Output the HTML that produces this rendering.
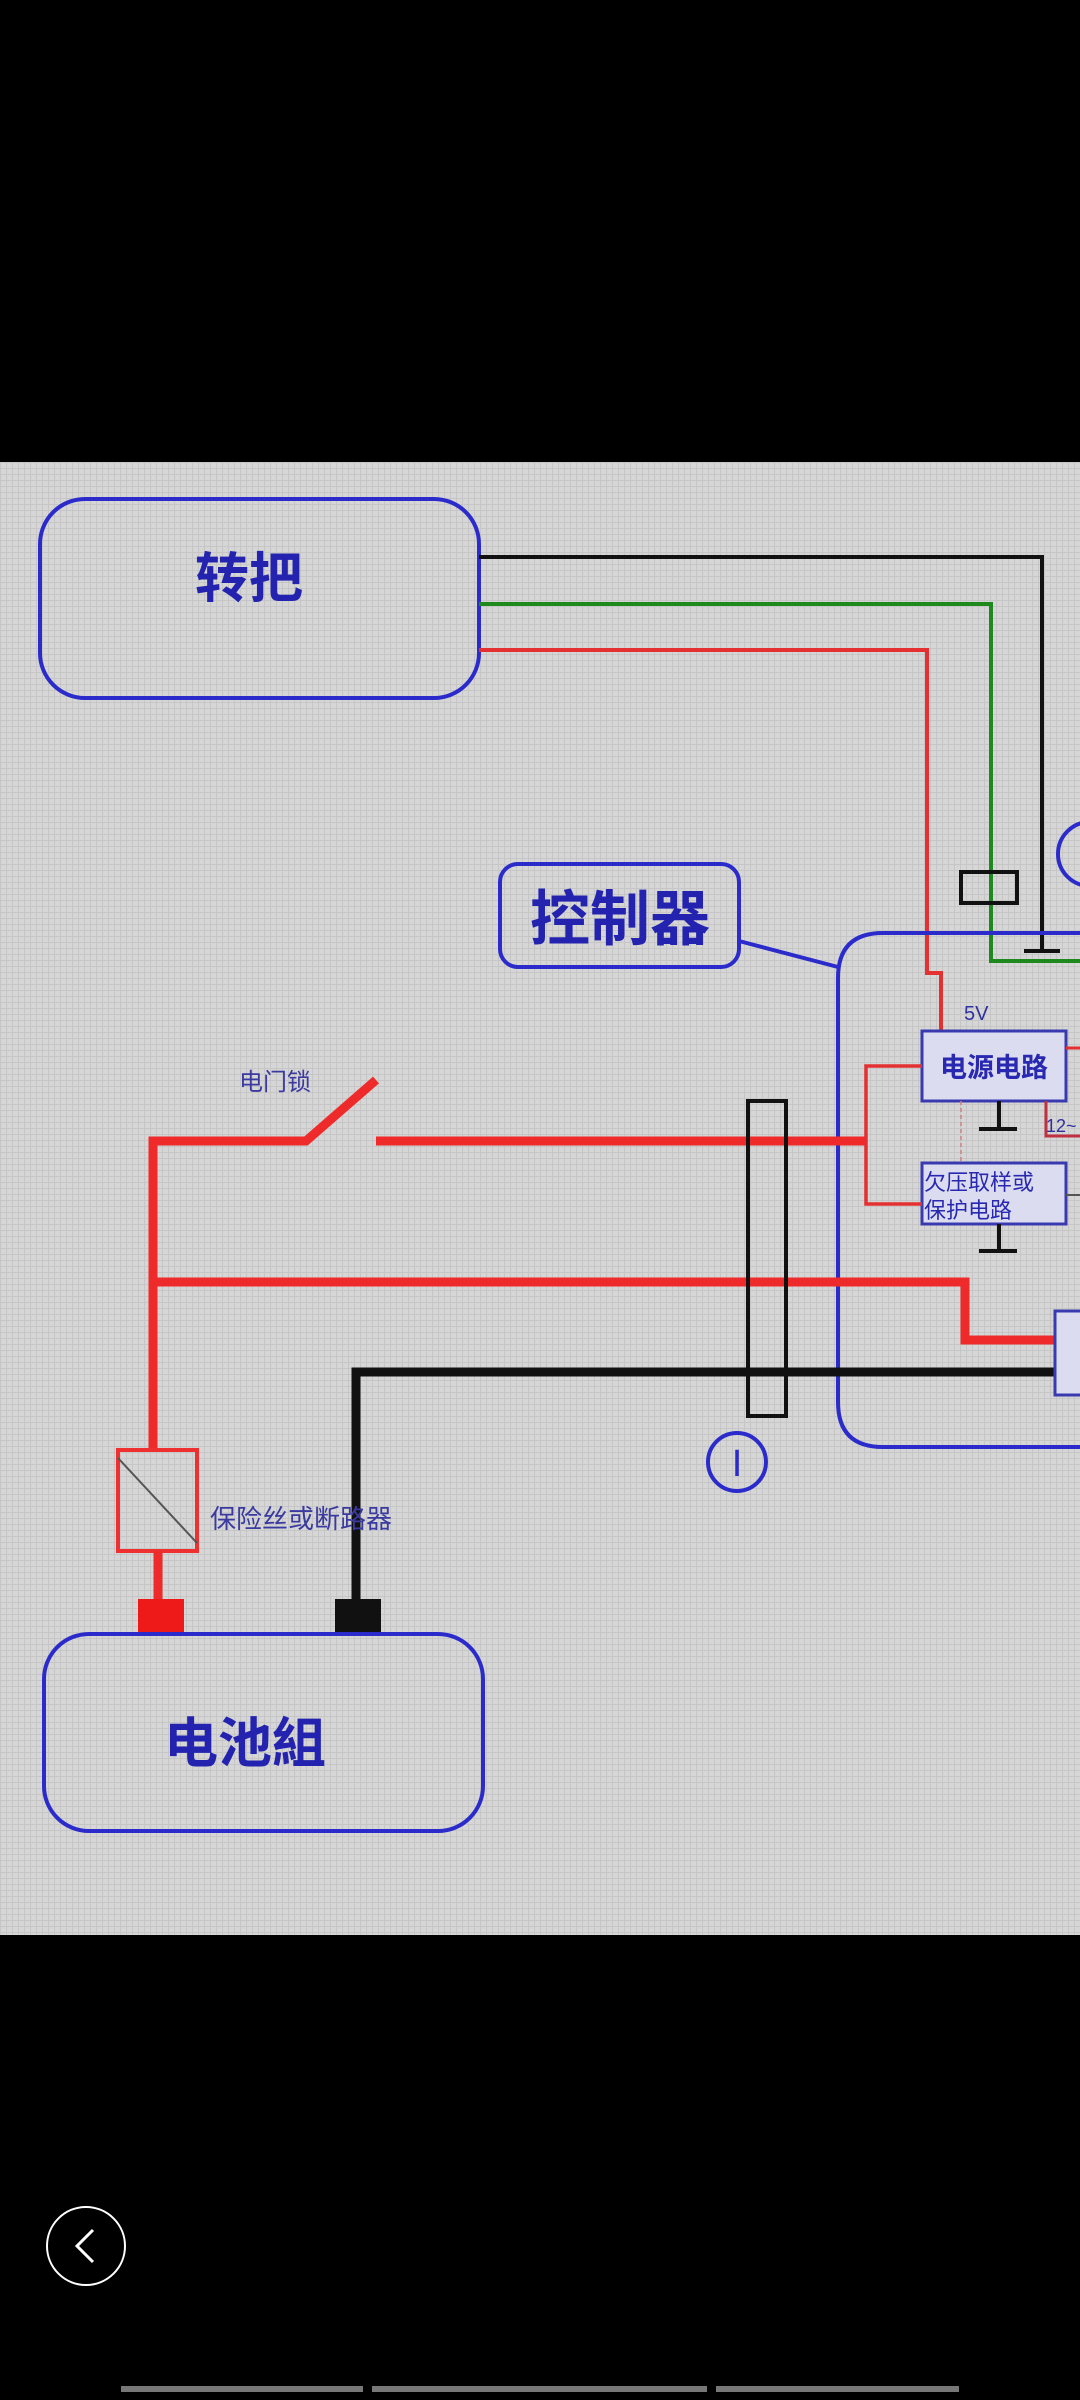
<!DOCTYPE html>
<html><head><meta charset="utf-8"><style>
html,body{margin:0;padding:0;background:#000;}
body{width:1080px;height:2400px;position:relative;overflow:hidden;}
svg{position:absolute;left:0;top:0;}
text{font-family:"Liberation Sans","Noto Sans CJK SC",sans-serif;}
</style></head><body>
<svg width="1080" height="2400" viewBox="0 0 1080 2400">
<defs>
<pattern id="g" width="6" height="6" patternUnits="userSpaceOnUse">
<rect width="6" height="6" fill="#d6d6d6"/>
<path d="M0 0.5H6M0.5 0V6" stroke="#c6c6c6" stroke-width="1"/>
</pattern>
</defs>
<rect x="0" y="0" width="1080" height="2400" fill="#000"/>
<rect x="0" y="462" width="1080" height="1473" fill="url(#g)"/>

<!-- 转把 box -->
<rect x="40" y="499" width="439" height="199" rx="45" fill="none" stroke="#2b2bcc" stroke-width="4"/>
<text x="249" y="597" font-size="54" font-weight="bold" fill="#2323b0" text-anchor="middle">转把</text>

<!-- wires from 转把 -->
<polyline points="479,557 1042,557 1042,951" fill="none" stroke="#111" stroke-width="4"/>
<line x1="1024" y1="951" x2="1060" y2="951" stroke="#111" stroke-width="4"/>
<polyline points="479,604 991,604 991,961 1080,961" fill="none" stroke="#1e8a1e" stroke-width="4"/>
<polyline points="479,650 927,650 927,973 941,973 941,1031" fill="none" stroke="#e43030" stroke-width="4"/>
<rect x="961" y="872" width="56" height="31" fill="none" stroke="#111" stroke-width="4"/>
<circle cx="1090" cy="854" r="32" fill="none" stroke="#2b2bcc" stroke-width="4"/>

<!-- 控制器 label -->
<rect x="500" y="864" width="239" height="103" rx="18" fill="none" stroke="#2b2bcc" stroke-width="4"/>
<text x="620" y="940" font-size="60" font-weight="bold" fill="#2323b0" text-anchor="middle">控制器</text>
<line x1="739" y1="941" x2="838" y2="967" stroke="#2b2bcc" stroke-width="4"/>

<!-- controller box -->
<path d="M1090 933 H883 Q838 933 838 978 V1402 Q838 1447 883 1447 H1090" fill="none" stroke="#2b2bcc" stroke-width="4"/>

<text x="964" y="1020" font-size="20" fill="#3030a0">5V</text>
<rect x="922" y="1031" width="144" height="70" fill="#dcdcf0" stroke="#3a3ab0" stroke-width="3"/>
<text x="994" y="1077" font-size="27" font-weight="bold" fill="#2828b0" text-anchor="middle">电源电路</text>
<line x1="999" y1="1101" x2="999" y2="1129" stroke="#111" stroke-width="4"/>
<line x1="979" y1="1129" x2="1017" y2="1129" stroke="#111" stroke-width="4"/>
<line x1="961" y1="1101" x2="961" y2="1163" stroke="#d08080" stroke-width="1.5" stroke-dasharray="4,3"/>
<polyline points="1066,1048 1080,1048" fill="none" stroke="#e43030" stroke-width="3"/>
<polyline points="1046,1101 1046,1136 1080,1136" fill="none" stroke="#c03040" stroke-width="3"/>
<text x="1046" y="1132" font-size="18" fill="#3030a0">12~</text>

<rect x="922" y="1163" width="144" height="61" fill="#dcdcf0" stroke="#3a3ab0" stroke-width="3"/>
<text x="924" y="1190" font-size="22" fill="#2828b0">欠压取样或</text>
<text x="924" y="1218" font-size="22" fill="#2828b0">保护电路</text>
<line x1="999" y1="1224" x2="999" y2="1251" stroke="#111" stroke-width="4"/>
<line x1="979" y1="1251" x2="1017" y2="1251" stroke="#111" stroke-width="4"/>
<line x1="1066" y1="1195" x2="1080" y2="1195" stroke="#555" stroke-width="2"/>

<!-- red feeds inside controller -->
<polyline points="922,1066 866,1066 866,1204 922,1204" fill="none" stroke="#e43030" stroke-width="3.5"/>

<!-- switch + main red -->
<polyline points="153,1450 153,1141 306,1141 376,1080" fill="none" stroke="#ee2a2a" stroke-width="9"/>
<line x1="376" y1="1141" x2="866" y2="1141" stroke="#ee2a2a" stroke-width="9"/>
<text x="275" y="1090" font-size="24" fill="#3a3aa0" text-anchor="middle">电门锁</text>
<polyline points="153,1282 965,1282 965,1340 1055,1340" fill="none" stroke="#ee2a2a" stroke-width="9"/>

<!-- black main -->
<polyline points="356,1599 356,1372 1055,1372" fill="none" stroke="#111" stroke-width="9"/>
<rect x="1055" y="1311" width="30" height="84" fill="#dcdcf0" stroke="#3a3ab0" stroke-width="3"/>

<!-- connector I -->
<rect x="748" y="1101" width="38" height="315" fill="none" stroke="#111" stroke-width="4"/>
<circle cx="737" cy="1462" r="29" fill="none" stroke="#2b2bcc" stroke-width="4"/>
<text x="737" y="1476" font-size="38" fill="#2b2bcc" text-anchor="middle">I</text>

<!-- fuse -->
<rect x="118" y="1450" width="79" height="101" fill="none" stroke="#ee3030" stroke-width="4"/>
<line x1="118" y1="1458" x2="197" y2="1543" stroke="#555" stroke-width="2"/>
<text x="210" y="1528" font-size="26" fill="#3a3aa0">保险丝或断路器</text>
<line x1="158" y1="1551" x2="158" y2="1599" stroke="#ee2a2a" stroke-width="9"/>
<rect x="138" y="1599" width="46" height="35" fill="#ee1a1a"/>
<rect x="335" y="1599" width="46" height="35" fill="#111"/>

<!-- battery -->
<rect x="44" y="1634" width="439" height="197" rx="45" fill="none" stroke="#2b2bcc" stroke-width="4"/>
<text x="245" y="1762" font-size="54" font-weight="bold" fill="#2323b0" text-anchor="middle">电池組</text>

<!-- bottom nav -->
<circle cx="86" cy="2246" r="39" fill="none" stroke="#fff" stroke-width="2"/>
<polyline points="93,2230 77,2246 93,2262" fill="none" stroke="#fff" stroke-width="3"/>
<line x1="121" y1="2389" x2="363" y2="2389" stroke="#777" stroke-width="6"/>
<line x1="372" y1="2389" x2="707" y2="2389" stroke="#777" stroke-width="6"/>
<line x1="716" y1="2389" x2="959" y2="2389" stroke="#777" stroke-width="6"/>
</svg>
</body></html>
